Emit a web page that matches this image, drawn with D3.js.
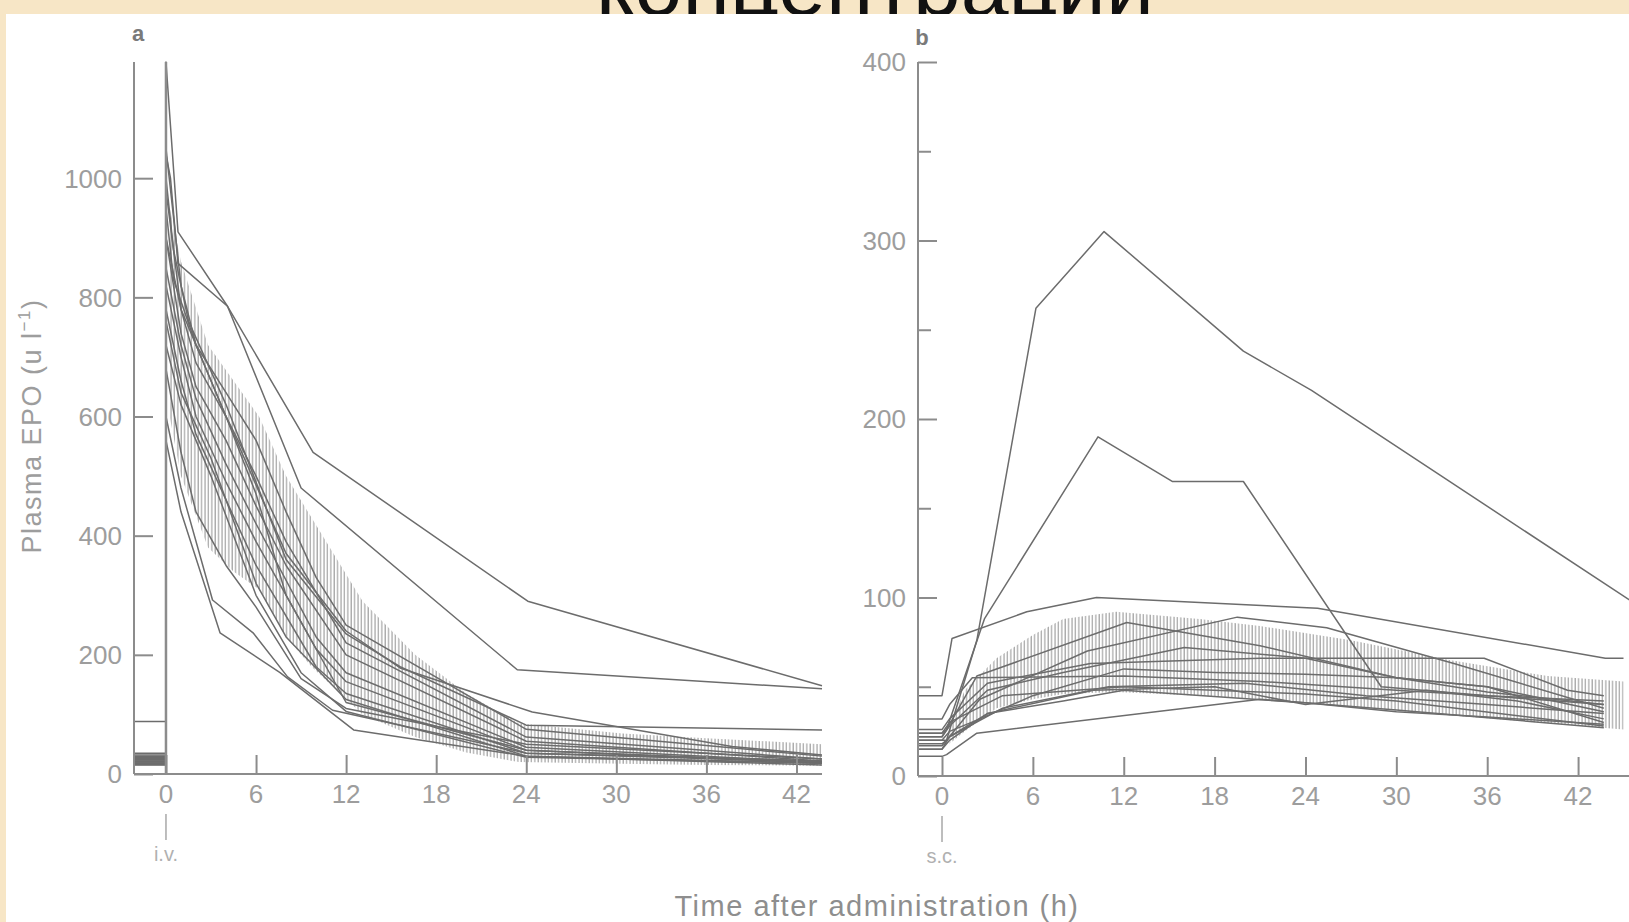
<!DOCTYPE html>
<html>
<head>
<meta charset="utf-8">
<script src="https://cdn.jsdelivr.net/npm/d3@7"></script>
<style>
  html, body { margin: 0; padding: 0; background: #f7e6c6; }
  svg { display: block; }
</style>
</head>
<body>
<div id="chart"></div>
<script>
// ---- data ----
const timeTicks = [0, 6, 12, 18, 24, 30, 36, 42];
const ivTicksY = [0, 200, 400, 600, 800, 1000];
const scTicksY = [0, 100, 200, 300, 400];
const scMinorY = [50, 150, 250, 350];

// panel a: i.v. — pre-dose baseline per subject, then [hour, u/l] after dosing
const ivBase = [30, 25, 20, 35, 88, 22, 18, 28, 15, 32, 24, 20, 26, 18, 22, 16];
const ivCurves = [
  [[0, 1195], [0.8, 910], [4.1, 785], [9.8, 540], [24.1, 290], [43.7, 148]],
  [[0, 1040], [0.3, 1000], [0.8, 857], [4.1, 785], [9, 480], [23.4, 175], [43.7, 143]],
  [[0, 1000], [0.5, 880], [1.5, 760], [4, 620], [8, 360], [12, 235], [15.6, 180], [24, 82], [43.7, 74]],
  [[0, 950], [0.5, 830], [2, 720], [4, 600], [8, 370], [12, 240], [15.6, 178], [24.4, 104], [37.7, 46], [43.7, 32]],
  [[0, 560], [1, 440], [3.6, 237], [7.6, 170], [12.5, 74], [24, 30], [43.7, 18]],
  [[0, 600], [1, 480], [3.1, 292], [5.8, 237], [8.1, 163], [11.1, 107], [24, 35], [43.7, 20]],
  [[0, 680], [1, 540], [2, 440], [4, 350], [6, 280], [9, 160], [12, 110], [24, 50], [43.7, 25]],
  [[0, 1050], [1, 820], [2, 720], [4, 640], [6, 560], [8, 440], [10, 330], [12, 250], [24, 75], [43.7, 30]],
  [[0, 980], [1, 780], [2, 690], [4, 600], [6, 500], [8, 390], [12, 220], [24, 62], [43.7, 25]],
  [[0, 900], [1, 740], [2, 650], [4, 560], [6, 450], [8, 350], [12, 200], [24, 55], [43.7, 22]],
  [[0, 850], [1, 720], [2, 630], [4, 520], [6, 420], [10, 230], [12, 170], [24, 45], [43.7, 20]],
  [[0, 820], [1, 700], [2, 600], [4, 490], [6, 390], [10, 210], [12, 155], [24, 40], [43.7, 18]],
  [[0, 780], [1, 660], [2, 570], [4, 460], [6, 350], [10, 180], [12, 135], [24, 35], [43.7, 22]],
  [[0, 760], [1, 640], [3, 530], [6, 320], [8, 230], [12, 125], [24, 30], [43.7, 15]],
  [[0, 720], [1, 620], [3, 500], [6, 300], [9, 170], [12, 105], [24, 28], [43.7, 18]],
  [[0, 900], [1, 780], [4, 600], [6, 470], [8, 300], [12, 120], [24, 40], [43.7, 20]]
];
const ivBandT = [0.25, 1, 2.8, 4.5, 6.2, 8, 9.7, 13.1, 16.6, 20, 23.5, 30.4, 36, 43.7];
const ivBandHi = [950, 860, 720, 660, 600, 500, 430, 290, 200, 135, 85, 68, 60, 50];
const ivBandLo = [600, 500, 380, 340, 310, 230, 180, 100, 62, 36, 20, 17, 15, 14];

// panel b: s.c.
const scBase = [45, 20, 24, 18, 22, 26, 32, 15, 17, 20, 11, 24, 22, 15];
const scCurves = [
  [[0, 45], [0.66, 77], [5.6, 92], [10.2, 100], [24.8, 94], [43.8, 66], [45, 66]],
  [[0, 20], [0.3, 20], [2.3, 76], [6.2, 262], [10.7, 305], [19.9, 238], [24.4, 216], [45.5, 98]],
  [[0, 24], [0.3, 26], [2.8, 88], [10.3, 190], [15.2, 165], [19.9, 165], [29, 50], [36, 45], [43.7, 40]],
  [[0, 18], [0.3, 20], [2.5, 43], [9.6, 70], [19.5, 89], [25.4, 83], [33.8, 63], [43.7, 38]],
  [[0, 22], [0.3, 26], [2.3, 56], [12.2, 86], [21, 73], [30, 55], [36, 47], [43.7, 40]],
  [[0, 26], [0.5, 32], [3, 52], [9.8, 63], [21, 66], [35.8, 66], [41.3, 48], [43.7, 45]],
  [[0, 32], [0.5, 40], [2, 55], [12, 56], [21, 53], [30, 48], [36, 45], [43.7, 42]],
  [[0, 15], [0.5, 22], [4, 38], [11, 50], [20, 52], [28, 45], [36, 40], [43.7, 35]],
  [[0, 17], [0.5, 22], [3, 35], [10, 48], [18, 50], [24, 40], [32, 48], [38, 42], [43.7, 32]],
  [[0, 20], [0.5, 25], [2.5, 32], [6, 45], [12, 60], [18, 58], [24, 57], [30, 55], [36, 50], [43.7, 30]],
  [[0, 11], [0.3, 12], [2.3, 24], [21, 43], [30, 37], [43.7, 27]],
  [[0, 24], [0.5, 30], [4, 45], [12, 50], [24, 46], [30, 42], [43.7, 28]],
  [[0, 22], [0.5, 28], [3, 48], [8, 58], [16, 72], [24, 66], [30, 55], [36, 50], [43.7, 36]],
  [[0, 15], [0.5, 20], [3, 35], [8, 42], [12, 48], [24, 41], [30, 36], [36, 33], [43.7, 29]]
];
const scBandT = [0.5, 1.5, 3.6, 6, 8, 11.5, 17, 21, 27, 33.5, 40, 45];
const scBandHi = [28, 48, 66, 79, 88, 92, 88, 84, 76, 65, 56, 53];
const scBandLo = [18, 25, 38, 43, 46, 47, 45, 43, 39, 34, 29.5, 26];

// ---- drawing ----
const W = 1629, H = 922;
const textCol = "#9d9d9d", axisCol = "#8c8c8c", lineCol = "#6c6c6c";
const font = "'Liberation Sans', Arial, sans-serif";
const bandTop = 14;

const svg = d3.select("#chart").append("svg")
  .attr("width", W).attr("height", H);

svg.append("rect").attr("width", W).attr("height", H).attr("fill", "#f7e6c6");

// slide heading, mostly hidden behind the figure
const defs = svg.append("defs");
defs.append("clipPath").attr("id", "headClip")
  .append("rect").attr("x", 0).attr("y", 0).attr("width", W).attr("height", bandTop);
svg.append("text")
  .attr("x", 875).attr("y", bandTop + 1)
  .attr("clip-path", "url(#headClip)")
  .attr("text-anchor", "middle")
  .attr("font-family", font).attr("font-size", 86)
  .attr("fill", "#111")
  .text("концентрации");

svg.append("rect").attr("x", 6).attr("y", bandTop).attr("width", W - 6).attr("height", H - bandTop).attr("fill", "#fff");

defs.append("pattern")
  .attr("id", "hatch")
  .attr("patternUnits", "userSpaceOnUse")
  .attr("width", 3.4).attr("height", 10)
  .append("line")
  .attr("x1", 1).attr("x2", 1).attr("y1", 0).attr("y2", 10)
  .attr("stroke", "#999").attr("stroke-width", 1.1);

function drawPanel(cfg) {
  const g = svg.append("g");
  const x = cfg.x, y = cfg.y;
  const t0 = x.domain()[0];

  // hatched band
  const area = d3.area()
    .x((d, i) => x(cfg.bandT[i]))
    .y0((d, i) => y(cfg.bandLo[i]))
    .y1((d, i) => y(cfg.bandHi[i]));
  g.append("path")
    .attr("d", area(cfg.bandT))
    .attr("fill", "url(#hatch)");

  // individual subjects
  const line = d3.line().x(d => x(d[0])).y(d => y(d[1]));
  cfg.curves.forEach((c, i) => {
    const pts = [[t0, cfg.base[i]], [0, cfg.base[i]]].concat(c);
    g.append("path")
      .attr("d", line(pts))
      .attr("fill", "none")
      .attr("stroke", lineCol)
      .attr("stroke-width", 1.5)
      .attr("stroke-linejoin", "round");
  });

  // y axis, ticks pointing inwards
  g.append("g").attr("transform", `translate(${x(t0)},0)`)
    .call(d3.axisRight(y).tickValues(cfg.yTicks).tickSize(19).tickFormat(""));
  if (cfg.yMinor) {
    g.append("g").attr("transform", `translate(${x(t0)},0)`)
      .call(d3.axisRight(y).tickValues(cfg.yMinor).tickSize(13).tickFormat(""));
  }
  g.selectAll(".domain").remove();
  g.append("line")
    .attr("x1", x(t0)).attr("x2", x(t0))
    .attr("y1", y(0)).attr("y2", y(cfg.yTop))
    .attr("stroke", axisCol).attr("stroke-width", 2);
  cfg.yTicks.forEach(v => {
    g.append("text")
      .attr("x", x(t0) - 12).attr("y", y(v))
      .attr("dy", "0.36em")
      .attr("text-anchor", "end")
      .attr("font-family", font).attr("font-size", 26)
      .attr("fill", textCol)
      .text(v);
  });

  // time axis, ticks pointing up
  const xa = g.append("g").attr("transform", `translate(0,${y(0)})`)
    .call(d3.axisTop(x).tickValues(timeTicks).tickSize(19).tickFormat(""));
  xa.select(".domain").remove();
  g.append("line")
    .attr("x1", x(t0)).attr("x2", x(cfg.tEnd))
    .attr("y1", y(0)).attr("y2", y(0))
    .attr("stroke", axisCol).attr("stroke-width", 2);
  timeTicks.forEach(t => {
    g.append("text")
      .attr("x", x(t)).attr("y", y(0) + 29)
      .attr("text-anchor", "middle")
      .attr("font-family", font).attr("font-size", 26)
      .attr("fill", textCol)
      .text(t);
  });
  g.selectAll(".tick line").attr("stroke", axisCol).attr("stroke-width", 2);

  // dosing marker
  g.append("line")
    .attr("x1", x(0)).attr("x2", x(0))
    .attr("y1", y(0) + 40).attr("y2", y(0) + 66)
    .attr("stroke", "#a8a8a8").attr("stroke-width", 1.5);
  g.append("text")
    .attr("x", x(0)).attr("y", y(0) + 87)
    .attr("text-anchor", "middle")
    .attr("font-family", font).attr("font-size", 20)
    .attr("fill", "#b0b0b0")
    .text(cfg.route);

  g.append("text")
    .attr("x", cfg.labelX).attr("y", cfg.labelY)
    .attr("text-anchor", "middle")
    .attr("font-family", font).attr("font-size", 22).attr("font-weight", "bold")
    .attr("fill", "#7a7a7a")
    .text(cfg.label);
  return g;
}

const xA = d3.scaleLinear().domain([-2.13, 43.7]).range([134, 822]);
const yA = d3.scaleLinear().domain([0, 1195]).range([774, 62]);
const gA = drawPanel({
  x: xA, y: yA, yTop: 1195, tEnd: 43.7,
  yTicks: ivTicksY, base: ivBase, curves: ivCurves,
  bandT: ivBandT, bandHi: ivBandHi, bandLo: ivBandLo,
  route: "i.v.", label: "a", labelX: 138, labelY: 41
});
// the i.v. bolus line at time zero
gA.append("line")
  .attr("x1", xA(0)).attr("x2", xA(0))
  .attr("y1", yA(0)).attr("y2", yA(1195))
  .attr("stroke", axisCol).attr("stroke-width", 2.5);

const xB = d3.scaleLinear().domain([-1.585, 44.9]).range([918, 1622]);
const yB = d3.scaleLinear().domain([0, 400]).range([776, 62]);
drawPanel({
  x: xB, y: yB, yTop: 400, tEnd: 45.5,
  yTicks: scTicksY, yMinor: scMinorY, base: scBase, curves: scCurves,
  bandT: scBandT, bandHi: scBandHi, bandLo: scBandLo,
  route: "s.c.", label: "b", labelX: 922, labelY: 45
});

// shared titles
svg.append("text")
  .attr("transform", "translate(41,426) rotate(-90)")
  .attr("text-anchor", "middle")
  .attr("font-family", font).attr("font-size", 27)
  .attr("letter-spacing", 1.5)
  .attr("fill", textCol)
  .call(t => {
    t.append("tspan").text("Plasma EPO (u l");
    t.append("tspan").attr("font-size", 17).attr("dy", -11).text("−1");
    t.append("tspan").attr("dy", 11).text(")");
  });

svg.append("text")
  .attr("x", 877).attr("y", 916)
  .attr("text-anchor", "middle")
  .attr("font-family", font).attr("font-size", 29)
  .attr("letter-spacing", 1.5)
  .attr("fill", "#8e8e8e")
  .text("Time after administration (h)");
</script>
</body>
</html>
